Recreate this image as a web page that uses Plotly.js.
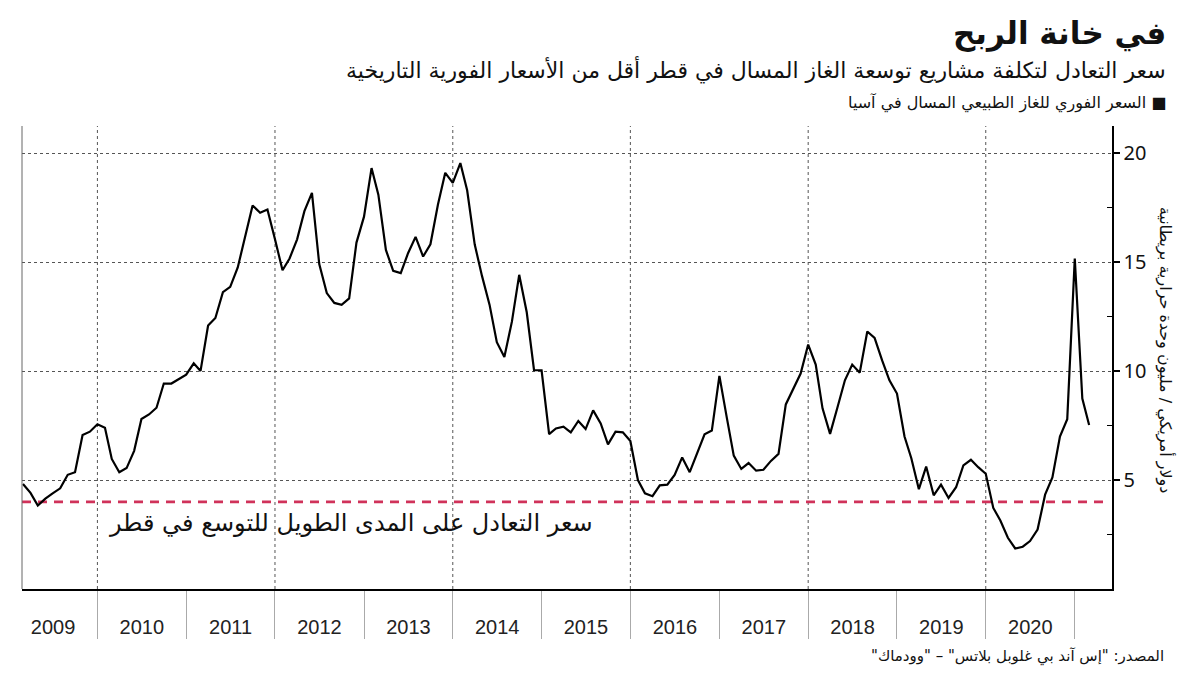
<!DOCTYPE html>
<html>
<head>
<meta charset="utf-8">
<script src="https://cdn.plot.ly/plotly-3.0.1.min.js"></script>
<style>
  html, body { margin: 0; padding: 0; background: #ffffff; }
  #chart { width: 1200px; height: 675px; }
</style>
</head>
<body>
<div id="chart"></div>
<script>
// ---------- DATA (monthly Asian LNG spot price, USD/MMBtu) ----------
const firstMonth = '2009-03';
const spot2009 = [4.82, 4.41, 3.83, 4.15, 4.39, 4.62, 5.24, 5.36, 7.07, 7.22];
const spot2010 = [7.56, 7.40, 5.97, 5.36, 5.55, 6.34, 7.80, 8.01, 8.32, 9.43, 9.43, 9.63];
const spot2011 = [9.84, 10.36, 10.01, 12.09, 12.44, 13.62, 13.87, 14.76, 16.17, 17.60, 17.27, 17.42];
const spot2012 = [16.05, 14.63, 15.17, 16.05, 17.34, 18.18, 14.91, 13.58, 13.13, 13.04, 13.34, 15.90];
const spot2013 = [17.09, 19.32, 18.10, 15.56, 14.60, 14.50, 15.41, 16.16, 15.26, 15.82, 17.65, 19.10];
const spot2014 = [18.64, 19.55, 18.30, 15.82, 14.37, 13.05, 11.33, 10.65, 12.27, 14.42, 12.70, 10.04];
const spot2015 = [10.04, 7.11, 7.37, 7.45, 7.19, 7.71, 7.34, 8.20, 7.60, 6.64, 7.22, 7.19];
const spot2016 = [6.79, 5.00, 4.39, 4.26, 4.76, 4.79, 5.24, 6.04, 5.36, 6.19, 7.10, 7.27];
const spot2017 = [9.78, 7.83, 6.12, 5.51, 5.78, 5.43, 5.47, 5.88, 6.20, 8.47, 9.20, 9.89];
const spot2018 = [11.22, 10.30, 8.29, 7.12, 8.32, 9.58, 10.30, 9.93, 11.82, 11.52, 10.49, 9.58];
const spot2019 = [8.97, 7.00, 6.00, 4.58, 5.62, 4.30, 4.79, 4.18, 4.67, 5.67, 5.93, 5.59];
const spot2020 = [5.29, 3.72, 3.14, 2.35, 1.86, 1.94, 2.20, 2.73, 4.33, 5.12, 7.00, 7.79];
const spot2021 = [15.17, 8.74, 7.53];

const breakevenValue = 4.0;
const breakevenSpan = ['2009-02-25', '2021-04-28'];

const yTickVals = [5, 10, 15, 20];
const yMinorVals = [2.5, 7.5, 12.5, 17.5];
const gridYears = ['2010-01-01', '2012-01-01', '2014-01-01', '2016-01-01', '2018-01-01', '2020-01-01'];

const titleText = 'في خانة الربح';
const subtitleText = 'سعر التعادل لتكلفة مشاريع توسعة الغاز المسال في قطر أقل من الأسعار الفورية التاريخية';
const legendText = 'السعر الفوري للغاز الطبيعي المسال في آسيا';
const breakevenLabel = 'سعر التعادل على المدى الطويل للتوسع في قطر';
const yTitleText = 'دولار أمريكي / مليون وحدة حرارية بريطانية';
const sourceText = '\u200Fالمصدر: "إس آند بي غلوبل بلاتس" – "وودماك"\u200F';

// ---------- BUILD ----------
const spot = [].concat(spot2009, spot2010, spot2011, spot2012, spot2013, spot2014,
  spot2015, spot2016, spot2017, spot2018, spot2019, spot2020, spot2021);
const months = [];
{
  let y = parseInt(firstMonth.slice(0, 4), 10);
  let m = parseInt(firstMonth.slice(5, 7), 10);
  for (let i = 0; i < spot.length; i++) {
    months.push(y + '-' + String(m).padStart(2, '0') + '-01');
    m++; if (m > 12) { m = 1; y++; }
  }
}

const arabicFont = 'DejaVu Sans, Noto Sans, sans-serif';

const traces = [
  {
    x: breakevenSpan, y: [breakevenValue, breakevenValue],
    type: 'scatter', mode: 'lines', hoverinfo: 'skip',
    line: { color: '#d0325a', width: 2.6, dash: '9px,7px' }
  },
  {
    x: months, y: spot,
    type: 'scatter', mode: 'lines', hoverinfo: 'skip',
    line: { color: '#000000', width: 2.2 }
  }
];

const shapes = gridYears.map(d => ({
  type: 'line', xref: 'x', yref: 'paper', x0: d, x1: d, y0: 0, y1: 1,
  line: { color: '#555555', width: 1, dash: 'dot' }, layer: 'below'
}));
shapes.push({
  type: 'line', xref: 'paper', yref: 'paper', x0: 0, x1: 0, y0: 0, y1: 1,
  line: { color: '#666666', width: 1 }
});

const PL = 22, PR = 1112, PT = 126, PB = 589.5;
const px = v => (v - PL) / (PR - PL);
const py = v => (PB - v) / (PB - PT);

const annotations = [
  { text: '<b>' + titleText + '</b>', xref: 'paper', yref: 'paper', x: px(1168), y: py(33),
    xanchor: 'right', yanchor: 'middle', showarrow: false,
    font: { family: arabicFont, size: 31, color: '#111' } },
  { text: subtitleText, xref: 'paper', yref: 'paper', x: px(1168), y: py(70),
    xanchor: 'right', yanchor: 'middle', showarrow: false,
    font: { family: arabicFont, size: 22, color: '#111' } },
  { text: legendText + ' ■', xref: 'paper', yref: 'paper', x: px(1168), y: py(103),
    xanchor: 'right', yanchor: 'middle', showarrow: false,
    font: { family: arabicFont, size: 16, color: '#111' } },
  { text: breakevenLabel, xref: 'paper', yref: 'paper', x: px(595), y: py(523),
    xanchor: 'right', yanchor: 'middle', showarrow: false,
    font: { family: arabicFont, size: 24, color: '#111' } },
  { text: yTitleText, xref: 'paper', yref: 'paper', x: px(1165), y: py(350),
    xanchor: 'center', yanchor: 'middle', showarrow: false, textangle: 90,
    font: { family: arabicFont, size: 16, color: '#111' } },
  { text: sourceText, xref: 'paper', yref: 'paper', x: px(1166), y: py(657),
    xanchor: 'right', yanchor: 'middle', showarrow: false,
    font: { family: arabicFont, size: 15, color: '#111' } }
];

const layout = {
  width: 1200, height: 675,
  margin: { l: PL, r: 1200 - PR, t: PT, b: 675 - PB, pad: 0 },
  paper_bgcolor: '#ffffff', plot_bgcolor: '#ffffff',
  showlegend: false,
  xaxis: {
    type: 'date',
    range: ['2009-02-25', '2021-06-03'],
    showgrid: false, zeroline: false,
    showline: true, linecolor: '#000000', linewidth: 1.5,
    ticks: 'outside', ticklen: 48, tickwidth: 1, tickcolor: '#aaaaaa',
    dtick: 'M12', tick0: '2009-01-01',
    ticklabelmode: 'period', tickformat: '%Y',
    ticklabelstandoff: -29,
    tickfont: { family: 'Liberation Sans Narrow, Liberation Sans, sans-serif', size: 20, color: '#222' }
  },
  yaxis: {
    side: 'right',
    range: [0, 21.25],
    tickmode: 'array', tickvals: yTickVals,
    ticks: 'outside', ticklen: 6, tickwidth: 2, tickcolor: '#000',
    showline: true, linecolor: '#000000', linewidth: 1.5,
    showgrid: true, gridcolor: '#555555', gridwidth: 1, griddash: 'dot',
    zeroline: false,
    minor: { tickmode: 'array', tickvals: yMinorVals, ticks: 'inside', ticklen: 5, tickwidth: 1, tickcolor: '#000', showgrid: false },
    tickfont: { family: 'Noto Sans, Open Sans, sans-serif', size: 20, color: '#111' }
  },
  shapes: shapes,
  annotations: annotations
};

Plotly.newPlot('chart', traces, layout, { staticPlot: true, displayModeBar: false });
</script>
</body>
</html>
